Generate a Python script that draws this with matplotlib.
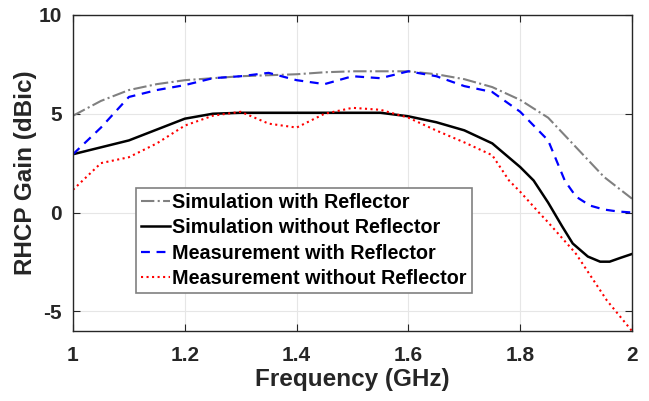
import matplotlib
matplotlib.use("Agg")
import matplotlib.pyplot as plt

plt.rcParams['font.family'] = ['Liberation Sans', 'DejaVu Sans']
plt.rcParams['font.weight'] = 'bold'
plt.rcParams['axes.unicode_minus'] = False

# frequency points (GHz)
freq_sim_ref = [1.0, 1.05, 1.1, 1.15, 1.2, 1.25, 1.3, 1.35, 1.4, 1.45, 1.5, 1.55, 1.6, 1.65, 1.7,
                1.75, 1.8, 1.85, 1.9, 1.95, 2.0]
gain_sim_ref = [4.9, 5.65, 6.2, 6.5, 6.7, 6.8, 6.9, 6.95, 7.0, 7.1, 7.15, 7.15, 7.15, 7.0, 6.75,
                6.35, 5.7, 4.8, 3.3, 1.8, 0.7]

freq_sim_noref = [1.0, 1.05, 1.1, 1.15, 1.2, 1.25, 1.3, 1.35, 1.4, 1.45, 1.5, 1.55, 1.6, 1.65, 1.7,
                  1.75, 1.8, 1.824, 1.85, 1.875, 1.894, 1.921, 1.943, 1.96, 1.979, 2.0]
gain_sim_noref = [2.95, 3.3, 3.65, 4.2, 4.75, 5.0, 5.05, 5.05, 5.05, 5.05, 5.05, 5.05, 4.87, 4.57, 4.16,
                  3.5, 2.3, 1.62, 0.5, -0.7, -1.57, -2.23, -2.49, -2.49, -2.3, -2.1]

freq_meas_ref = [1.0, 1.05, 1.1, 1.15, 1.2, 1.25, 1.3, 1.35, 1.4, 1.45, 1.5, 1.55, 1.6, 1.65, 1.7,
                 1.75, 1.8, 1.85, 1.88, 1.9, 1.925, 1.95, 1.975, 2.0]
gain_meas_ref = [2.95, 4.3, 5.85, 6.2, 6.45, 6.8, 6.9, 7.07, 6.7, 6.5, 6.9, 6.8, 7.15, 6.9, 6.4,
                 6.1, 5.1, 3.65, 1.6, 0.8, 0.35, 0.15, 0.05, 0.0]

freq_meas_noref = [1.0, 1.05, 1.1, 1.15, 1.2, 1.25, 1.3, 1.35, 1.4, 1.45, 1.5, 1.55, 1.6, 1.65, 1.7,
                   1.75, 1.78, 1.8, 1.835, 1.85, 1.894, 1.9, 1.955, 2.0]
gain_meas_noref = [1.15, 2.5, 2.8, 3.5, 4.4, 4.9, 5.1, 4.5, 4.3, 5.0, 5.3, 5.2, 4.8, 4.15, 3.55,
                   2.9, 1.62, 1.05, -0.05, -0.5, -1.9, -2.1, -4.45, -6.0]

labels = ['Simulation with Reflector', 'Simulation without Reflector',
          'Measurement with Reflector', 'Measurement without Reflector']

fig = plt.figure(figsize=(6.49, 4.01), dpi=100)
ax = fig.add_axes([73/649, 1 - 331/401, (632-73)/649, (331-15)/401])

ax.plot(freq_sim_ref, gain_sim_ref, color='#808080', linestyle='-.', linewidth=1.5, label=labels[0])
ax.plot(freq_sim_noref, gain_sim_noref, color='black', linestyle='-', linewidth=1.8, label=labels[1])
ax.plot(freq_meas_ref, gain_meas_ref, color='blue', linestyle=(0, (4, 3)), linewidth=1.6, label=labels[2])
ax.plot(freq_meas_noref, gain_meas_noref, color='red', linestyle=':', linewidth=1.5, label=labels[3])

ax.set_xlim(1, 2)
ax.set_ylim(-6, 10)
ax.set_xticks([1, 1.2, 1.4, 1.6, 1.8, 2])
ax.set_xticklabels(['1', '1.2', '1.4', '1.6', '1.8', '2'])
ax.set_yticks([-5, 0, 5, 10])
ax.grid(True, color='#e6e6e6', linewidth=0.8)
ax.tick_params(direction='in', top=True, right=True, labelsize=15, colors='#262626', length=5)
ax.tick_params(axis='x', pad=11)
ax.tick_params(axis='y', pad=8)
for s in ax.spines.values():
    s.set_color('#262626')
    s.set_linewidth(1.0)

ax.set_xlabel('Frequency (GHz)', fontsize=17.5, fontweight='bold', color='#262626', labelpad=2)
ax.set_ylabel('RHCP Gain (dBic)', fontsize=17.5, fontweight='bold', color='#262626', labelpad=1)

leg = ax.legend(loc='lower left', bbox_to_anchor=((136-73)/559, (331-293)/316),
                fontsize=14.2, frameon=True, fancybox=False, handlelength=1.45,
                handletextpad=0.15, borderpad=0.25, labelspacing=0.33, borderaxespad=0)
leg.get_frame().set_edgecolor('#808080')
leg.get_frame().set_linewidth(1.2)
leg.get_frame().set_alpha(1)

fig.savefig('out.png', dpi=100)
